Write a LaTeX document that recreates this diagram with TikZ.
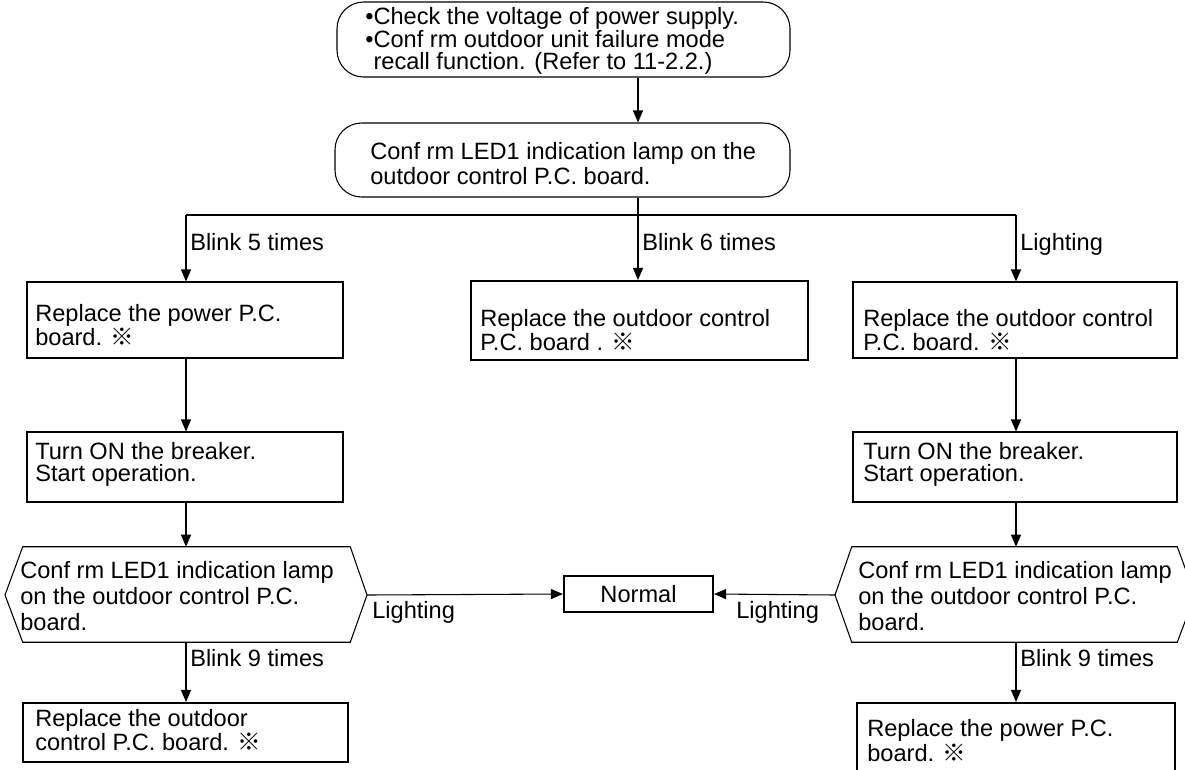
\documentclass[tikz,border=0pt]{standalone}
\usepackage{fontspec}
\setmainfont{Liberation Sans}
\newfontfamily\cjkfont{Noto Sans CJK JP}
\newcommand\refmk{{\cjkfont ※}}
\usetikzlibrary{fit,arrows.meta}
\tikzset{
 thinbox/.style={draw, line width=0.8pt, inner sep=0pt},
 thickbox/.style={draw, line width=1.6pt, inner sep=0pt},
 roundbox/.style={draw, line width=0.8pt, inner sep=0pt, rounded corners=20pt},
 txt/.style={font=\fontsize{17.7pt}{16.5pt}\selectfont, align=left, inner sep=0pt, anchor=north west},
 txtw/.style={txt, font=\fontsize{17.7pt}{18.75pt}\selectfont},
 hextxt/.style={txt, font=\fontsize{17.7pt}{19.5pt}\selectfont},
 conn/.style={line width=0.8pt},
 arr/.style={conn, -{Triangle[length=9pt,width=7.5pt]}},
 hexline/.style={draw, line width=0.8pt},
}
\begin{document}
\begin{tikzpicture}[x=0.75pt, y=-0.75pt]
\path[use as bounding box] (0,0) rectangle (1185,769);
\clip (0,0) rectangle (1185,769);

\coordinate (colL) at (186,0);
\coordinate (colM) at (638,0);
\coordinate (colR) at (1016,0);
\coordinate (split) at (638,215);

% top boxes
\node[roundbox, fit={(337,2) (790,77)}] (T1) {};
\node[txt, font=\fontsize{17.7pt}{16.9pt}\selectfont] (T1t) at (365,7.5) {•Check the voltage of power supply.\\•Conf rm outdoor unit failure mode\\\phantom{•}recall function. (Refer to 11-2.2.)};
\node[roundbox, fit={(335,123) (790,197)}] (T2) {};
\node[txtw] (T2t) at (370,142.5) {Conf rm LED1 indication lamp on the\\outdoor control P.C. board.};

% first row
\node[thinbox, fit={(27,282) (343,358)}] (L1) {};
\node[txt] (L1t) at (35,304.5) {Replace the power P.C.\\board. \refmk};
\node[thickbox, fit={(471,281) (808,360)}] (M) {};
\node[txt] (Mt) at (480,309.5) {Replace the outdoor control\\P.C. board . \refmk};
\node[thinbox, fit={(853,282) (1177,358)}] (R1) {};
\node[txt] (R1t) at (863,309.5) {Replace the outdoor control\\P.C. board. \refmk};

% second row
\node[thinbox, fit={(27,432) (343,502)}] (L2) {};
\node[txt] (L2t) at (35,442.5) {Turn ON the breaker.\\Start operation.};
\node[thinbox, fit={(853,432) (1177,502)}] (R2) {};
\node[txt] (R2t) at (863,442.5) {Turn ON the breaker.\\Start operation.};

% hexagons
\node[inner sep=0pt, fit={(23,547) (350,642)}] (L3) {};
\coordinate (L3l) at (5,595);
\coordinate (L3r) at (367,595);
\draw[hexline] (L3.north west) -- (L3.north east) -- (L3r) -- (L3.south east) -- (L3.south west) -- (L3l) -- cycle;
\node[hextxt] (L3t) at (20,561.5) {Conf rm LED1 indication lamp\\on the outdoor control P.C.\\board.};

\node[inner sep=0pt, fit={(852,547) (1177,642)}] (R3) {};
\coordinate (R3l) at (835,595);
\coordinate (R3r) at (1195,595);
\draw[hexline] (R3.north west) -- (R3.north east) -- (R3r) -- (R3.south east) -- (R3.south west) -- (R3l) -- cycle;
\node[hextxt] (R3t) at (858,561.5) {Conf rm LED1 indication lamp\\on the outdoor control P.C.\\board.};

\node[thickbox, fit={(564,576) (713,612)}] (N) {};
\node[font=\fontsize{17.7pt}{16.5pt}\selectfont, inner sep=0pt] (Nt) at (N.center) {Normal};

% bottom row
\node[thickbox, fit={(23,703) (348,762)}] (L4) {};
\node[txt] (L4t) at (35,709.5) {Replace the outdoor\\control P.C. board. \refmk};
\node[thickbox, fit={(857,703) (1175,790)}] (R4) {};
\node[txtw] (R4t) at (867,719.5) {Replace the power P.C.\\board. \refmk};

% connectors
\draw[arr] (T1.south -| colM) -- (T2.north -| colM);
\draw[conn] (T2.south -| colM) -- (split);
\draw[conn] (split -| colL) -- (split -| colR);
\draw[arr] (split -| colL) -- (L1.north -| colL);
\draw[arr] (split) -- (M.north -| colM);
\draw[arr] (split -| colR) -- (R1.north -| colR);
\draw[arr] (L1.south -| colL) -- (L2.north -| colL);
\draw[arr] (R1.south -| colR) -- (R2.north -| colR);
\draw[arr] (L2.south -| colL) -- (L3.north -| colL);
\draw[arr] (R2.south -| colR) -- (R3.north -| colR);
\draw[arr] (L3r) -- (N.west);
\draw[arr] (R3l) -- (N.east);
\draw[arr] (L3.south -| colL) -- (L4.north -| colL);
\draw[arr] (R3.south -| colR) -- (R4.north -| colR);

% labels
\node[txt] (lb5) at (190,233.5) {Blink 5 times};
\node[txt] (lb6) at (642,233.5) {Blink 6 times};
\node[txt] (lbl) at (1020,233.5) {Lighting};
\node[txt] (lbnl) at (372,601) {Lighting};
\node[txt] (lbnr) at (736,601) {Lighting};
\node[txt] (lb9l) at (190,649.5) {Blink 9 times};
\node[txt] (lb9r) at (1020,649.5) {Blink 9 times};
\end{tikzpicture}
\end{document}
